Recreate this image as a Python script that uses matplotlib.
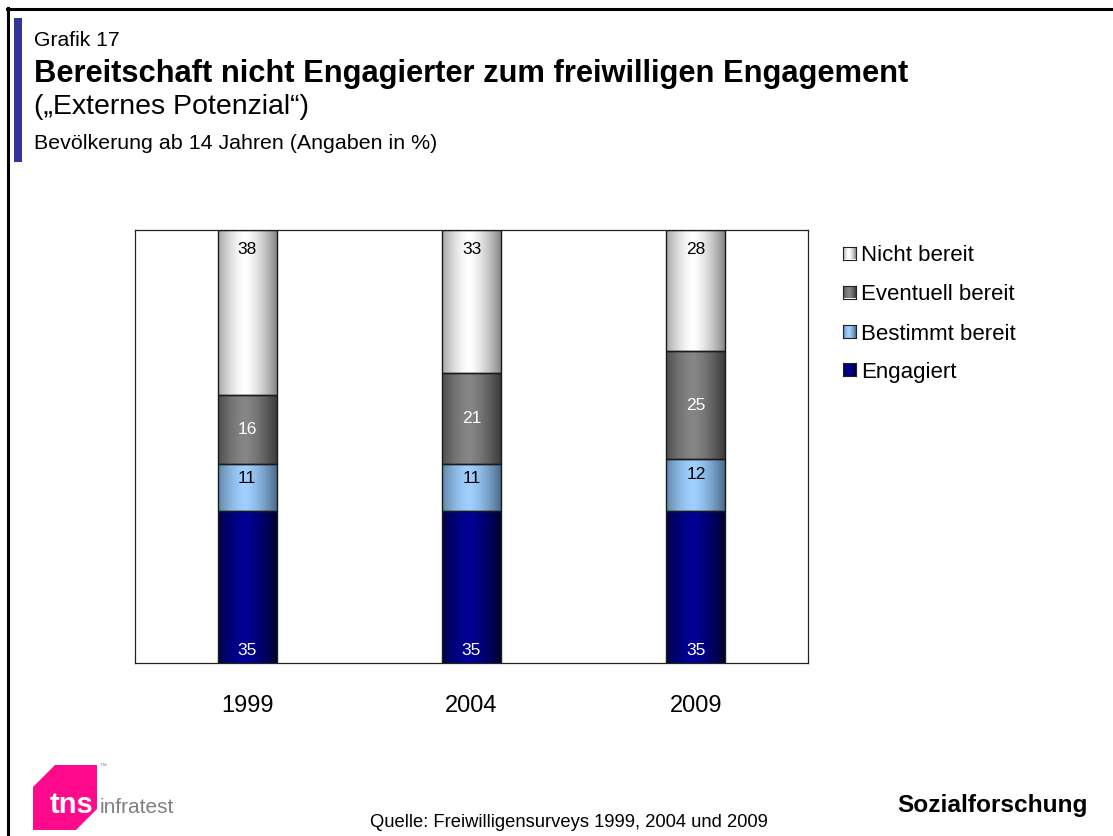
import matplotlib
matplotlib.use("Agg")
import matplotlib.pyplot as plt
import numpy as np
from matplotlib.colors import LinearSegmentedColormap
from matplotlib.patches import Rectangle, Polygon

plt.rcParams['font.family'] = ['Liberation Sans', 'DejaVu Sans']

# data (percent of population aged 14+)
years = ['1999', '2004', '2009']
series = ['Engagiert', 'Bestimmt bereit', 'Eventuell bereit', 'Nicht bereit']
engagiert = [35, 35, 35]
bestimmt = [11, 11, 12]
eventuell = [16, 21, 25]
nicht = [38, 33, 28]
values = [engagiert, bestimmt, eventuell, nicht]

# edge / centre colours of the cylinder-like shading
edge_cols = ['#00002e', '#4a6c8c', '#3a3a3a', '#888888']
mid_cols = ['#000094', '#a0d0ff', '#868686', '#ffffff']
label_cols = ['white', 'black', 'white', 'black']

W, H = 1113, 836
fig = plt.figure(figsize=(W / 100, H / 100), dpi=100)

def fx(x):
    return x / W

def fy(y):
    return 1 - y / H

# horizontal shading profile: dark at the edges, brightest a bit left of centre
t = np.linspace(0, 1, 200)
shade = np.clip(1 - (np.abs(t - 0.45) / 0.55) ** 1.5, 0, 1)[None, :]
cmaps = [LinearSegmentedColormap.from_list('s%d' % i, [edge_cols[i], mid_cols[i]])
         for i in range(len(series))]

# frame lines and blue marker bar
fig.add_artist(plt.Line2D([fx(7), fx(W)], [fy(8.5), fy(8.5)], color='black', lw=2.2))
fig.add_artist(plt.Line2D([fx(8), fx(8)], [fy(8), fy(H)], color='black', lw=2.2))
fig.add_artist(Rectangle((fx(14), fy(162)), fx(8), fy(18) - fy(162),
                         transform=fig.transFigure, color='#333399', lw=0))

fig.text(fx(34), fy(46), 'Grafik 17', fontsize=15.2, va='baseline')
fig.text(fx(34), fy(82), 'Bereitschaft nicht Engagierter zum freiwilligen Engagement',
         fontsize=22.2, fontweight='bold', va='baseline')
fig.text(fx(34), fy(114), '(\u201eExternes Potenzial\u201c)', fontsize=20.5, va='baseline')
fig.text(fx(34), fy(149), 'Bev\u00f6lkerung ab 14 Jahren (Angaben in %)', fontsize=15.4,
         va='baseline')

ax = fig.add_axes([fx(135), fy(663), fx(808) - fx(135), fy(230) - fy(663)])
x = np.arange(len(years))
width = 0.263

bottom = np.zeros(len(years))
for i, vals in enumerate(values):
    vals = np.array(vals, dtype=float)
    bars = ax.bar(x, vals, width, bottom=bottom, facecolor='none',
                  edgecolor='#1a1a1a', lw=1, zorder=3)
    for b in bars:
        ax.imshow(shade, cmap=cmaps[i], vmin=0, vmax=1, aspect='auto', zorder=2,
                  extent=[b.get_x(), b.get_x() + b.get_width(),
                          b.get_y(), b.get_y() + b.get_height()],
                  interpolation='bilinear')
    for xi, v, b0 in zip(x, vals, bottom):
        if i == 0:
            ly = b0 + 2.8
        elif i == 1:
            ly = b0 + v - 3.5
        elif i == 2:
            ly = b0 + v / 2
        else:
            ly = b0 + v - 4.5
        ax.text(xi, ly, '%d' % v, ha='center', va='center', fontsize=12.5,
                color=label_cols[i], zorder=4)
    bottom += vals

ax.set_xlim(-0.5, len(years) - 0.5)
ax.set_ylim(0, 100)
ax.set_yticks([])
ax.set_xticks(x)
ax.set_xticklabels(years, fontsize=17)
ax.tick_params(axis='x', length=0, pad=23)
for s in ax.spines.values():
    s.set_color('#222222')
    s.set_linewidth(0.9)

# legend, top entry = top segment
legend_y = [253, 292, 332, 370]
for row, i in enumerate(range(len(series) - 1, -1, -1)):
    yc = legend_y[row]
    sq = fig.add_axes([fx(843), fy(yc + 6.5), fx(13), fy(yc - 6.5) - fy(yc + 6.5)])
    sq.imshow(shade, cmap=cmaps[i], vmin=0, vmax=1, aspect='auto',
              interpolation='bilinear')
    sq.set_xticks([])
    sq.set_yticks([])
    for s in sq.spines.values():
        s.set_color('#222222')
        s.set_linewidth(0.8)
    fig.text(fx(861), fy(yc), series[i], fontsize=16, va='center_baseline')

# logo
logo = Polygon([(fx(55), fy(765)), (fx(97), fy(765)), (fx(97), fy(809)),
                (fx(76), fy(830)), (fx(33), fy(830)), (fx(33), fy(787))],
               closed=True, transform=fig.transFigure, color='#ff0a8c', lw=0)
fig.add_artist(logo)
fig.text(fx(50), fy(813), 'tns', fontsize=21, fontweight='bold', color='white',
         va='baseline')
fig.text(fx(100), fy(813), 'infratest', fontsize=15, color='#808080', va='baseline')
fig.text(fx(99), fy(767), '\u2122', fontsize=5, color='#808080', va='center')

fig.text(fx(569), fy(827), 'Quelle: Freiwilligensurveys 1999, 2004 und 2009',
         fontsize=13.2, ha='center', va='baseline')
fig.text(fx(1088), fy(812), 'Sozialforschung', fontsize=17.6, fontweight='bold',
         ha='right', va='baseline')

fig.savefig('out.png', dpi=100)
